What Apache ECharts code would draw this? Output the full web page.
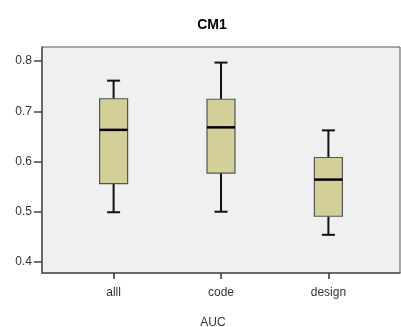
<!DOCTYPE html>
<html><head><meta charset="utf-8">
<script src="https://cdn.jsdelivr.net/npm/echarts@6/dist/echarts.min.js"></script>
<style>html,body{margin:0;padding:0;background:#fff}#c{width:401px;height:327px}</style>
</head><body><div id="c"></div>
<script>
const categories = ['alll', 'code', 'design'];
// [min, Q1, median, Q3, max]
const boxAll = [0.499, 0.556, 0.663, 0.725, 0.761];
const boxCode = [0.500, 0.577, 0.668, 0.724, 0.797];
const boxDesign = [0.454, 0.491, 0.564, 0.608, 0.662];
const yTicks = [0.4, 0.5, 0.6, 0.7, 0.8];
const xTicks = [1, 2, 3];
const yMin = 0.378, yMax = 0.828;
const boxes = [boxAll, boxCode, boxDesign];
const data = boxes.map((b, i) => [i + 1].concat(b));
const font = 'Liberation Sans, Arial, sans-serif';
const chart = echarts.init(document.getElementById('c'));
chart.setOption({
  animation: false,
  backgroundColor: '#fff',
  title: [
    {text: 'CM1', left: 207, top: 13, textAlign: 'center',
     textStyle: {fontSize: 14, fontWeight: 'bold', color: '#000', fontFamily: font}},
    {text: 'AUC', left: 208, top: 312, textAlign: 'center',
     textStyle: {fontSize: 12, fontWeight: 'normal', color: '#333', fontFamily: font}}
  ],
  grid: {left: 42, right: 1, top: 47, bottom: 54, show: true, backgroundColor: '#f0f0f0', borderColor: '#555', borderWidth: 1},
  xAxis: {
    type: 'value', min: 1/3, max: 11/3,
    splitLine: {show: false},
    axisLine: {show: true, onZero: false, lineStyle: {color: '#555', width: 1.5}},
    axisTick: {show: true, customValues: xTicks, length: 6, lineStyle: {color: '#333', width: 1.5}},
    axisLabel: {customValues: xTicks, margin: 14, fontSize: 12, color: '#333', fontFamily: font,
      formatter: v => categories[Math.round(v) - 1] || ''}
  },
  yAxis: {
    type: 'value', min: yMin, max: yMax,
    splitLine: {show: false},
    axisLine: {show: true, onZero: false, lineStyle: {color: '#555', width: 1.5}},
    axisTick: {show: true, inside: false, customValues: yTicks, length: 8, lineStyle: {color: '#444', width: 1.5}},
    axisLabel: {customValues: yTicks, margin: 10, fontSize: 12, color: '#333', fontFamily: font,
      formatter: v => v.toFixed(1)}
  },
  series: [{
    type: 'custom',
    data: data,
    renderItem: function (params, api) {
      const x = api.value(0);
      const pMin = api.coord([x, api.value(1)]);
      const pQ1 = api.coord([x, api.value(2)]);
      const pMed = api.coord([x, api.value(3)]);
      const pQ3 = api.coord([x, api.value(4)]);
      const pMax = api.coord([x, api.value(5)]);
      const cx = pMed[0];
      const bw = 28, cw = 13;
      const ws = {stroke: '#111', lineWidth: 2};
      return {type: 'group', children: [
        {type: 'line', shape: {x1: cx, y1: pMax[1], x2: cx, y2: pQ3[1]}, style: ws},
        {type: 'line', shape: {x1: cx, y1: pQ1[1], x2: cx, y2: pMin[1]}, style: ws},
        {type: 'line', shape: {x1: cx - cw/2, y1: pMax[1], x2: cx + cw/2, y2: pMax[1]}, style: ws},
        {type: 'line', shape: {x1: cx - cw/2, y1: pMin[1], x2: cx + cw/2, y2: pMin[1]}, style: ws},
        {type: 'rect', shape: {x: cx - bw/2, y: pQ3[1], width: bw, height: pQ1[1] - pQ3[1]},
          style: {fill: '#d3cf98', stroke: '#555', lineWidth: 1.2}},
        {type: 'line', shape: {x1: cx - bw/2, y1: pMed[1], x2: cx + bw/2, y2: pMed[1]},
          style: {stroke: '#000', lineWidth: 2.5}}
      ]};
    }
  }]
});
</script></body></html>
